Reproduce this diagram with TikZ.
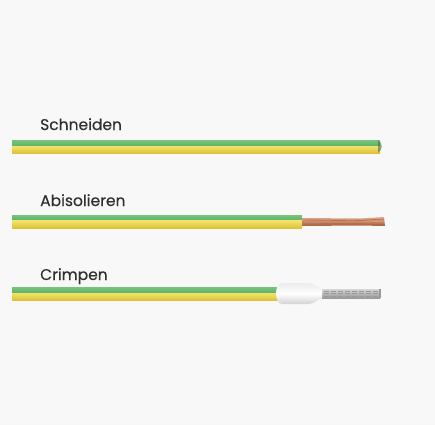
\documentclass[tikz,border=0pt]{standalone}
\usepackage{fontspec}
\setmainfont{Poppins}
\newfontfamily\labelfont{Poppins}[FakeBold=0.3]
\definecolor{bgcol}{HTML}{F8F8F8}
\definecolor{wgreen}{HTML}{58B46C}
\definecolor{wgreenlt}{HTML}{7CC27A}
\definecolor{wyellow}{HTML}{EBD446}
\definecolor{wyellowlt}{HTML}{F3E36A}
\definecolor{wyellowdk}{HTML}{DDC23A}
\definecolor{copper}{HTML}{C98460}
\definecolor{copperlt}{HTML}{E0A888}
\definecolor{copperdk}{HTML}{A9623F}
\definecolor{metal}{HTML}{D4D4D4}
\definecolor{metaldk}{HTML}{9A9A9A}
\definecolor{textcol}{HTML}{2F2F2F}
\tikzset{
  steplabel/.style={anchor=base west, inner sep=0pt, font=\labelfont\fontsize{15.5}{18}\selectfont, text=textcol},
  greenband/.style={top color=wgreenlt, bottom color=wgreen},
  yellowband/.style={top color=wyellowlt, bottom color=wyellowdk},
}
\begin{document}
\begin{tikzpicture}[x=1pt,y=-1pt]
\useasboundingbox (0,0) rectangle (435,425);
\fill[bgcol] (0,0) rectangle (435,425);

% step labels
\node[steplabel] (lcut)   at (40,130) {Schneiden};
\node[steplabel] (lstrip) at (40,206) {Abisolieren};
\node[steplabel] (lcrimp) at (40,280) {Crimpen};

% --- wire 1: cut ---
\shade[greenband]  (12,140) rectangle (380,146);
\shade[yellowband] (12,146) rectangle (380,153);
\fill[wgreen!60!black, opacity=0.55] (378,140) .. controls (383,143) and (383,150) .. (378,153) -- cycle;

% --- wire 2: stripped, bare copper end ---
\shade[greenband]  (12,215) rectangle (302,220.5);
\shade[yellowband] (12,220.5) rectangle (302,228);
\shade[top color=copperlt, bottom color=copperdk] (302,218) -- (360,218.5) -- (384,217) -- (385,226) -- (360,225.5) -- (302,226) -- cycle;
\draw[copperdk, line width=0.4pt] (304,220) -- (360,220.6) -- (384,219);
\draw[copperlt, line width=0.4pt] (304,222) -- (360,222) -- (384,221.5);
\draw[copperdk, line width=0.4pt] (304,224) -- (360,223.8) -- (384,224.5);

% --- wire 3: crimped ferrule ---
\shade[greenband]  (12,287) rectangle (278,293);
\shade[yellowband] (12,293) rectangle (278,300);
% ferrule pin (crimped strands)
\shade[top color=metal, bottom color=metaldk] (318,289) rectangle (380,298);
\foreach \yy in {291,293.5,296}
  \draw[metaldk, line width=0.3pt, dash pattern=on 5pt off 2pt] (324,\yy) -- (378,\yy);
\fill[metaldk] (378.5,289) rectangle (380.5,298);
% ferrule plastic collar
\shade[top color=gray!15, bottom color=gray!35, middle color=white]
  (282,283) -- (308,283) .. controls (314,283) and (316,287) .. (322,288.5)
  -- (322,298.5) .. controls (316,300) and (314,304) .. (308,304)
  -- (282,304) .. controls (274,304) and (274,283) .. (282,283) -- cycle;
\end{tikzpicture}
\end{document}
